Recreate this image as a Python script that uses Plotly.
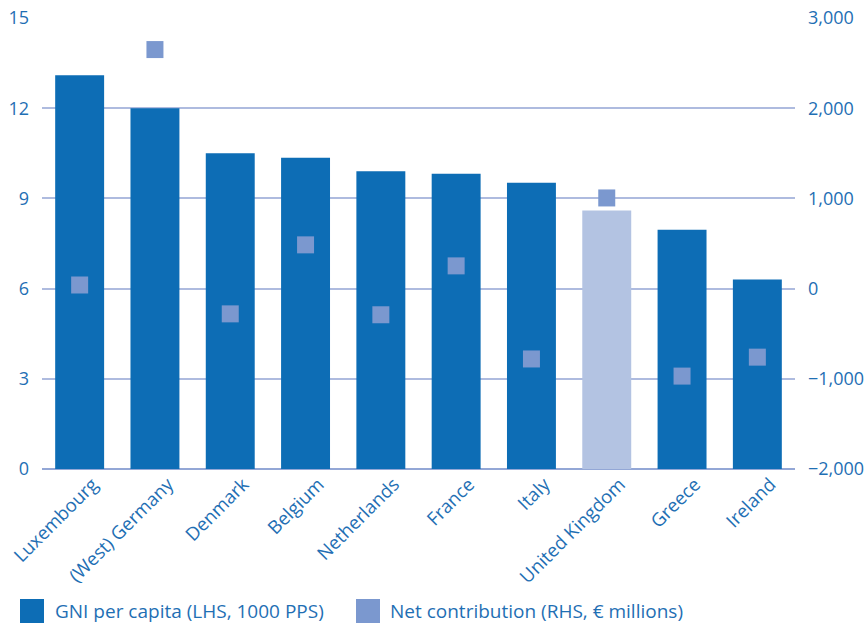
import plotly.graph_objects as go

countries = ["Luxembourg", "(West) Germany", "Denmark", "Belgium", "Netherlands",
             "France", "Italy", "United Kingdom", "Greece", "Ireland"]
gni_per_capita = [13.1, 12.0, 10.5, 10.35, 9.9, 9.82, 9.52, 8.6, 7.96, 6.3]
net_contribution = [40, 2650, -280, 485, -290, 252, -780, 1005, -970, -760]

bar_blue = "#0d6db5"
uk_blue = "#b3c3e2"
square_blue = "#7b98cf"
text_blue = "#1f6fb4"
grid_col = "#aebbdf"
FONT = "Open Sans"

bar_colors = [uk_blue if c == "United Kingdom" else bar_blue for c in countries]

fig = go.Figure()
fig.add_trace(go.Bar(
    x=countries, y=gni_per_capita, marker=dict(color=bar_colors, line=dict(width=0)),
    name="GNI per capita (LHS, 1000 PPS)", yaxis="y", showlegend=False,
))
fig.add_trace(go.Scatter(
    x=countries, y=net_contribution, mode="markers",
    marker=dict(symbol="square", size=17, color=square_blue, line=dict(width=0)),
    name="Net contribution (RHS, € millions)", yaxis="y2", showlegend=False,
))

# manual legend (paper coords relative to plot area: x 42..795px, y 18..469px)
def px_x(p):
    return (p - 42) / 753.0

def px_y(p):
    return (469 - p) / 451.0

legend_items = [
    (20, 44, bar_blue, 55, "GNI per capita (LHS, 1000 PPS)"),
    (356, 380, square_blue, 390, "Net contribution (RHS, € millions)"),
]
shapes = []
annotations = []
for x0, x1, col, tx, label in legend_items:
    shapes.append(dict(type="rect", xref="paper", yref="paper",
                       x0=px_x(x0), x1=px_x(x1), y0=px_y(623), y1=px_y(599),
                       fillcolor=col, line=dict(width=0)))
    annotations.append(dict(xref="paper", yref="paper", x=px_x(tx), y=px_y(611),
                            text=label, showarrow=False, xanchor="left", yanchor="middle",
                            xshift=-2,
                            font=dict(family=FONT, size=19, color=text_blue)))

fig.update_layout(
    width=867, height=625,
    margin=dict(l=42, r=72, t=18, b=156, autoexpand=False),
    paper_bgcolor="white", plot_bgcolor="white",
    bargap=0.35,
    font=dict(family=FONT, size=18, color=text_blue),
    xaxis=dict(tickangle=-45, showgrid=False, ticks="", showline=False, automargin=False,
               range=[-0.5, len(countries) - 0.5], autorange=False,
               ticklabelshift=13,
               tickfont=dict(family=FONT, size=18.5, color=text_blue)),
    yaxis=dict(range=[0, 15], tickvals=[0, 3, 6, 9, 12, 15], showgrid=True,
               gridcolor=grid_col, gridwidth=1.5, zeroline=True, zerolinecolor="#93a7d6",
               zerolinewidth=1.5, ticks="", ticklabelstandoff=12, automargin=False,
               tickfont=dict(family=FONT, size=18, color=text_blue)),
    yaxis2=dict(range=[-2000, 3000], tickvals=[-2000, -1000, 0, 1000, 2000, 3000],
                tickformat=",", overlaying="y", side="right", showgrid=False,
                zeroline=False, ticks="", ticklabelstandoff=12, automargin=False,
                tickfont=dict(family=FONT, size=18, color=text_blue)),
    shapes=shapes, annotations=annotations,
    showlegend=False,
)

fig.write_html("out.html")
